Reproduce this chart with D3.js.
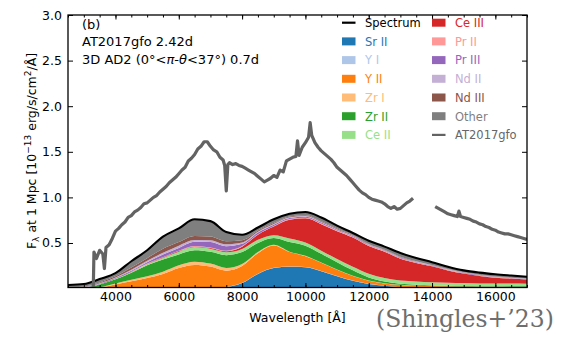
<!DOCTYPE html>
<html>
<head>
<meta charset="utf-8">
<script src="https://cdn.jsdelivr.net/npm/d3@7"></script>
<style>
body { margin: 0; background: #fff; }
text { font-family: "DejaVu Sans", sans-serif; }
</style>
</head>
<body>
<div id="container"></div>
<script>
// model grid (Angstrom)
let wave = [2500, 3000, 3500, 4000, 4500, 5000, 5500, 6000, 6500, 7000, 7500, 8000, 8500, 9000, 9500,
  10000, 10500, 11000, 11500, 12000, 12500, 13000, 13500, 14000, 14500, 15000, 15500, 16000, 16500, 17000];

// contribution of each ion, 1e-13 erg/s/cm2/A
let srII = [0, 0, 0, 0, 0, 0, 0, 0, 0, 0.002, 0.015, 0.06, 0.16, 0.225, 0.24, 0.235, 0.19, 0.135, 0.085, 0.05, 0.03, 0.015, 0.008, 0.004, 0.002, 0.001, 0.001, 0.001, 0.001, 0.001];
let yI = [0, 0, 0, 0, 0, 0, 0, 0, 0, 0, 0.002, 0.003, 0.003, 0.003, 0.003, 0.003, 0.003, 0.003, 0.003, 0.002, 0.002, 0.001, 0.001, 0.001, 0.001, 0.001, 0.001, 0.001, 0.001, 0.001];
let yII = [0, 0, 0.01, 0.045, 0.08, 0.115, 0.16, 0.225, 0.26, 0.24, 0.18, 0.185, 0.225, 0.245, 0.157, 0.117, 0.09, 0.07, 0.05, 0.035, 0.025, 0.024, 0.024, 0.023, 0.022, 0.02, 0.018, 0.017, 0.015, 0.013];
let zrI = [0, 0, 0.005, 0.012, 0.018, 0.02, 0.025, 0.03, 0.035, 0.032, 0.03, 0.022, 0.012, 0.007, 0.005, 0.004, 0.003, 0.002, 0.002, 0.001, 0.001, 0.001, 0.001, 0, 0, 0, 0, 0, 0, 0];
let zrII = [0.004, 0.012, 0.03, 0.045, 0.075, 0.12, 0.135, 0.12, 0.125, 0.13, 0.14, 0.13, 0.10, 0.075, 0.105, 0.111, 0.095, 0.08, 0.06, 0.035, 0.02, 0.012, 0.008, 0.007, 0.006, 0.006, 0.006, 0.006, 0.008, 0.01];
let ceII = [0.001, 0.002, 0.004, 0.005, 0.008, 0.012, 0.015, 0.03, 0.035, 0.033, 0.032, 0.035, 0.035, 0.03, 0.04, 0.035, 0.035, 0.035, 0.04, 0.04, 0.037, 0.035, 0.035, 0.034, 0.033, 0.032, 0.031, 0.031, 0.03, 0.028];
let ceIII = [0, 0, 0, 0.002, 0.003, 0.004, 0.005, 0.006, 0.007, 0.008, 0.01, 0.025, 0.055, 0.095, 0.205, 0.265, 0.29, 0.305, 0.32, 0.305, 0.29, 0.24, 0.205, 0.175, 0.135, 0.105, 0.08, 0.064, 0.055, 0.047];
let prII = [0, 0, 0, 0, 0.002, 0.003, 0.004, 0.005, 0.006, 0.006, 0.006, 0.006, 0.006, 0.007, 0.008, 0.008, 0.008, 0.007, 0.007, 0.006, 0.006, 0.006, 0.005, 0.005, 0.005, 0.004, 0.004, 0.004, 0.003, 0.003];
let prIII = [0, 0, 0.003, 0.006, 0.01, 0.015, 0.03, 0.03, 0.045, 0.06, 0.05, 0.025, 0.018, 0.013, 0.012, 0.01, 0.01, 0.009, 0.008, 0.007, 0.006, 0.006, 0.005, 0.004, 0.004, 0.004, 0.004, 0.003, 0.003, 0.003];
let ndII = [0.002, 0.003, 0.006, 0.008, 0.012, 0.015, 0.018, 0.025, 0.02, 0.02, 0.02, 0.014, 0.01, 0.008, 0.007, 0.007, 0.007, 0.006, 0.005, 0.004, 0.004, 0.004, 0.004, 0.003, 0.003, 0.003, 0.003, 0.003, 0.002, 0.002];
let ndIII = [0.003, 0.005, 0.01, 0.012, 0.022, 0.03, 0.045, 0.04, 0.045, 0.04, 0.035, 0.025, 0.012, 0.01, 0.008, 0.008, 0.007, 0.006, 0.005, 0.004, 0.004, 0.004, 0.004, 0.003, 0.003, 0.003, 0.003, 0.003, 0.002, 0.002];
let other = [0.03, 0.028, 0.037, 0.035, 0.07, 0.086, 0.133, 0.149, 0.182, 0.169, 0.10, 0.06, 0.034, 0.042, 0.03, 0.037, 0.042, 0.032, 0.025, 0.036, 0.035, 0.042, 0.035, 0.031, 0.026, 0.021, 0.024, 0.024, 0.023, 0.02];

// observed AT2017gfo spectrum
let obsWave1 = [3300, 3320, 3400, 3500, 3600, 3650, 3700, 3800, 3900, 4000, 4100, 4200, 4300, 4400, 4500, 4600, 4700, 4800, 4900,
  5000, 5100, 5200, 5300, 5400, 5500, 5600, 5700, 5800, 5900, 6000, 6100, 6200, 6300, 6400, 6500, 6600, 6700, 6800, 6900,
  7000, 7100, 7200, 7300, 7400, 7450, 7500, 7550, 7600, 7700, 7800, 7900, 8000, 8100, 8200, 8300, 8400, 8500, 8600, 8700,
  8800, 8900, 9000, 9100, 9200, 9300, 9400, 9500, 9600, 9700, 9750, 9800, 9900, 10000, 10100, 10150, 10200, 10300, 10400,
  10500, 10600, 10700, 10800, 10900, 11000, 11100, 11200, 11300, 11400, 11500, 11600, 11700, 11800, 11900, 12000, 12100,
  12200, 12300, 12400, 12500, 12600, 12700, 12800, 12900, 13000, 13100, 13200, 13300, 13400];
let obsFlux1 = [0.02, 0.40, 0.33, 0.42, 0.38, 0.22, 0.45, 0.48, 0.55, 0.63, 0.66, 0.70, 0.73, 0.78, 0.80, 0.84, 0.86, 0.89, 0.93,
  0.94, 0.97, 1.00, 1.02, 1.06, 1.09, 1.12, 1.16, 1.19, 1.22, 1.26, 1.30, 1.33, 1.40, 1.43, 1.47, 1.53, 1.56, 1.61, 1.61,
  1.56, 1.52, 1.50, 1.44, 1.41, 1.35, 1.07, 1.36, 1.38, 1.36, 1.37, 1.35, 1.34, 1.32, 1.30, 1.28, 1.26, 1.23, 1.20, 1.17,
  1.19, 1.21, 1.24, 1.22, 1.30, 1.28, 1.40, 1.42, 1.44, 1.45, 1.62, 1.46, 1.55, 1.60, 1.66, 1.82, 1.68, 1.60, 1.55,
  1.51, 1.48, 1.45, 1.42, 1.38, 1.33, 1.30, 1.27, 1.24, 1.20, 1.16, 1.12, 1.08, 1.05, 1.03, 1.00, 0.98,
  0.97, 0.96, 0.95, 0.93, 0.90, 0.88, 0.90, 0.87, 0.88, 0.91, 0.94, 0.96, 0.99];
let obsWave2 = [14100, 14200, 14300, 14400, 14500, 14600, 14700, 14800, 14850, 14900, 15000, 15100, 15200, 15300, 15400,
  15500, 15600, 15700, 15800, 15900, 16000, 16100, 16200, 16300, 16400, 16500, 16600, 16700, 16800, 16900, 17000];
let obsFlux2 = [0.90, 0.88, 0.86, 0.84, 0.82, 0.81, 0.80, 0.79, 0.85, 0.79, 0.78, 0.77, 0.76, 0.74, 0.73,
  0.71, 0.70, 0.68, 0.67, 0.65, 0.64, 0.62, 0.61, 0.60, 0.60, 0.59, 0.58, 0.57, 0.56, 0.55, 0.54];

let ions = ['Sr II', 'Y I', 'Y II', 'Zr I', 'Zr II', 'Ce II', 'Ce III', 'Pr II', 'Pr III', 'Nd II', 'Nd III', 'Other'];
let ionValues = [srII, yI, yII, zrI, zrII, ceII, ceIII, prII, prIII, ndII, ndIII, other];
let ionColors = ['#1f77b4', '#aec7e8', '#ff7f0e', '#ffbb78', '#2ca02c', '#98df8a', '#d62728', '#ff9896', '#9467bd', '#c5b0d5', '#8c564b', '#7f7f7f'];

let xTicks = [4000, 6000, 8000, 10000, 12000, 14000, 16000];
let yTicks = [0.5, 1.0, 1.5, 2.0, 2.5, 3.0];

let width = 564;
let height = 337;
let plotLeft = 68, plotRight = 527, plotTop = 15, plotBottom = 287.5;

let svg = d3.select('#container').append('svg')
    .attr('width', width).attr('height', height);

let xScale = d3.scaleLinear().domain([2500, 17000]).range([plotLeft, plotRight]);
let yScale = d3.scaleLinear().domain([0.012, 3.0]).range([plotBottom, plotTop]);

svg.append('clipPath').attr('id', 'plotClip')
    .append('rect').attr('x', plotLeft).attr('y', plotTop)
    .attr('width', plotRight - plotLeft).attr('height', plotBottom - plotTop);

let table = wave.map((w, i) => {
    let row = { wave: w };
    ions.forEach((name, k) => { row[name] = ionValues[k][i]; });
    return row;
});

let stack = d3.stack().keys(ions);
let layers = stack(table);

let area = d3.area()
    .x(d => xScale(d.data.wave))
    .y0(d => yScale(d[0]))
    .y1(d => yScale(d[1]))
    .curve(d3.curveMonotoneX);

let plot = svg.append('g').attr('clip-path', 'url(#plotClip)');

plot.selectAll('.layer')
    .data(layers).enter()
    .append('path').attr('class', 'layer')
    .attr('fill', (d, i) => ionColors[i])
    .attr('d', area);

let line = d3.line()
    .x(d => xScale(d[0]))
    .y(d => yScale(d[1]))
    .curve(d3.curveMonotoneX);

// total model spectrum = top of the stack
let topLayer = layers[layers.length - 1];
plot.append('path')
    .datum(topLayer.map(d => [d.data.wave, d[1]]))
    .attr('fill', 'none').attr('stroke', '#000').attr('stroke-width', 2.1)
    .attr('d', line);

let obsLine = d3.line()
    .x(d => xScale(d[0]))
    .y(d => yScale(d[1]));

[[obsWave1, obsFlux1], [obsWave2, obsFlux2]].forEach(seg => {
    plot.append('path')
        .datum(seg[0].map((w, i) => [w, seg[1][i]]))
        .attr('fill', 'none').attr('stroke', '#636363')
        .attr('stroke-width', 3.2).attr('stroke-linejoin', 'round')
        .attr('d', obsLine);
});

// axes, ticks pointing inward
let minorX = d3.range(2500, 17001, 500);

function styleAxis(g) {
    g.select('.domain').remove();
    g.selectAll('.tick line').attr('stroke', '#000').attr('stroke-width', 1);
    g.selectAll('.tick text').attr('fill', '#000').style('font-size', '12.5px').style('font-family', '"DejaVu Sans", sans-serif');
}

svg.append('g').attr('transform', 'translate(0,' + plotBottom + ')')
    .call(d3.axisBottom(xScale).tickValues(minorX).tickSize(-2.5).tickFormat(''))
    .call(styleAxis);
svg.append('g').attr('transform', 'translate(0,' + plotBottom + ')')
    .call(d3.axisBottom(xScale).tickValues(xTicks).tickSize(-4.5).tickPadding(5).tickFormat(d3.format('d')))
    .call(styleAxis);
svg.append('g').attr('transform', 'translate(0,' + plotTop + ')')
    .call(d3.axisTop(xScale).tickValues(minorX).tickSize(-2.5).tickFormat(''))
    .call(styleAxis);
svg.append('g').attr('transform', 'translate(0,' + plotTop + ')')
    .call(d3.axisTop(xScale).tickValues(xTicks).tickSize(-4.5).tickFormat(''))
    .call(styleAxis);
svg.append('g').attr('transform', 'translate(' + plotLeft + ',0)')
    .call(d3.axisLeft(yScale).tickValues(yTicks).tickSize(-5).tickPadding(6).tickFormat(d3.format('.1f')))
    .call(styleAxis);
svg.append('g').attr('transform', 'translate(' + plotRight + ',0)')
    .call(d3.axisRight(yScale).tickValues(yTicks).tickSize(-5).tickFormat(''))
    .call(styleAxis);

svg.append('rect').attr('x', plotLeft).attr('y', plotTop)
    .attr('width', plotRight - plotLeft).attr('height', plotBottom - plotTop)
    .attr('fill', 'none').attr('stroke', '#000').attr('stroke-width', 1.3);

// axis titles
svg.append('text').attr('x', (plotLeft + plotRight) / 2).attr('y', 322)
    .attr('text-anchor', 'middle').style('font-size', '12.5px')
    .text('Wavelength [Å]');

let ylab = svg.append('text')
    .attr('transform', 'translate(36,151) rotate(-90)')
    .attr('text-anchor', 'middle').style('font-size', '12.5px');
ylab.append('tspan').text('F');
ylab.append('tspan').attr('dy', 3).style('font-size', '9px').text('λ');
ylab.append('tspan').attr('dy', -3).text(' at 1 Mpc [10');
ylab.append('tspan').attr('dy', -5).style('font-size', '9px').text('−13');
ylab.append('tspan').attr('dy', 5).text(' erg/s/cm');
ylab.append('tspan').attr('dy', -5).style('font-size', '9px').text('2');
ylab.append('tspan').attr('dy', 5).text('/Å]');

// annotation
let notes = svg.append('g').style('font-size', '13px');
notes.append('text').attr('x', 82).attr('y', 29).text('(b)');
notes.append('text').attr('x', 82).attr('y', 46).text('AT2017gfo 2.42d');
let l3 = notes.append('text').attr('x', 82).attr('y', 64);
l3.append('tspan').text('3D AD2 (0°<');
l3.append('tspan').style('font-style', 'italic').text('π');
l3.append('tspan').text('-');
l3.append('tspan').style('font-style', 'italic').text('θ');
l3.append('tspan').text('<37°) 0.7d');

// legend
let legendItems = [{ name: 'Spectrum', color: '#000', kind: 'line' }]
    .concat(ions.map((n, i) => ({ name: n, color: ionColors[i], kind: 'patch' })))
    .concat([{ name: 'AT2017gfo', color: '#636363', kind: 'line' }]);

let legend = svg.append('g').style('font-size', '11.5px');
legendItems.forEach((d, i) => {
    let col = Math.floor(i / 7), row = i % 7;
    let gx = col === 0 ? 342 : 432;
    let gy = 22.7 + row * 18.7;
    let g = legend.append('g').attr('transform', 'translate(' + gx + ',' + gy + ')');
    if (d.kind === 'line') {
        g.append('line').attr('x1', 0).attr('x2', 13.5).attr('y1', 0).attr('y2', 0)
            .attr('stroke', d.color).attr('stroke-width', 2.2);
    } else {
        g.append('rect').attr('x', 0).attr('y', -4).attr('width', 13.5).attr('height', 8)
            .attr('fill', d.color);
    }
    g.append('text').attr('x', 23).attr('y', 4.3)
        .attr('fill', d.color === '#636363' ? '#666' : d.color).text(d.name);
});

svg.append('text').attr('x', 376).attr('y', 327)
    .style('font-family', '"DejaVu Serif", serif').style('font-size', '23.5px')
    .attr('fill', '#6e6e6e').text('(Shingles+’23)');
</script>
</body>
</html>
